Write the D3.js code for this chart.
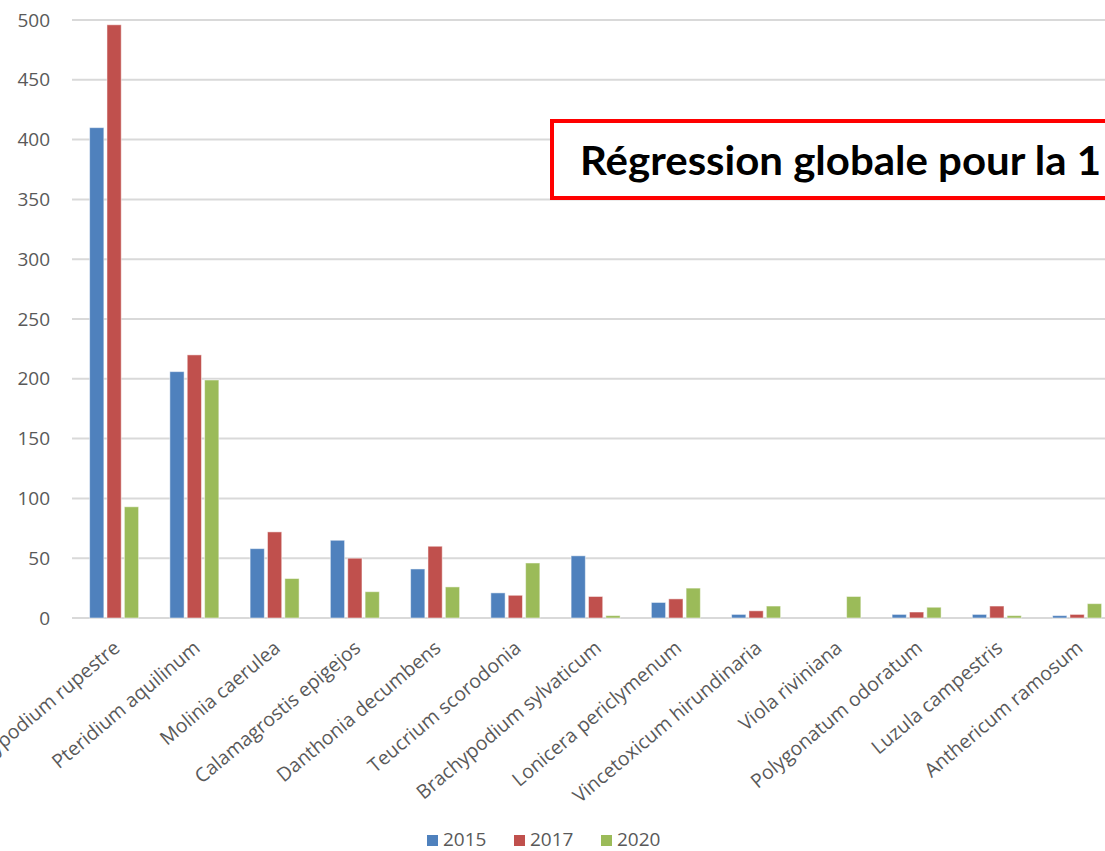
<!DOCTYPE html>
<html>
<head>
<meta charset="utf-8">
<script src="https://cdn.jsdelivr.net/npm/d3@7"></script>
<style>
    html, body { margin: 0; padding: 0; background: #fff; overflow: hidden; }
    svg { display: block; }
</style>
</head>
<body>
<div id="chart"></div>
<script>
// species along the x axis
var species = [
    "Brachypodium rupestre", "Pteridium aquilinum", "Molinia caerulea",
    "Calamagrostis epigejos", "Danthonia decumbens", "Teucrium scorodonia",
    "Brachypodium sylvaticum", "Lonicera periclymenum", "Vincetoxicum hirundinaria",
    "Viola riviniana", "Polygonatum odoratum", "Luzula campestris", "Anthericum ramosum"
];
var years = ["2015", "2017", "2020"];
var values2015 = [410, 206, 58, 65, 41, 21, 52, 13, 3, 0, 3, 3, 2];
var values2017 = [496, 220, 72, 50, 60, 19, 18, 16, 6, 0, 5, 10, 3];
var values2020 = [93, 199, 33, 22, 26, 46, 2, 25, 10, 18, 9, 2, 12];
var yTicks = [0, 50, 100, 150, 200, 250, 300, 350, 400, 450, 500];
var boxText = "Régression globale pour la 1";

function init() {
    var w = 1105;
    var h = 851;
    var colors = { "2015": "#4f81bd", "2017": "#c0504d", "2020": "#9bbb59" };
    var seriesValues = { "2015": values2015, "2017": values2017, "2020": values2020 };

    var svg = d3.select("#chart")
        .append("svg")
        .attr("width", w)
        .attr("height", h);

    // plot area runs a little past the right edge (picture is cropped)
    var xScale = d3.scaleBand()
        .domain(species)
        .range([74, 74 + 13 * 80.25]);

    var xInner = d3.scaleBand()
        .domain(years)
        .range([15.6, 64.6])
        .paddingInner(0.18);

    var yScale = d3.scaleLinear()
        .domain([0, 500])
        .range([618, 20]);

    // gridlines
    svg.append("g")
        .selectAll("line")
        .data(yTicks)
        .enter()
        .append("line")
        .attr("x1", 72)
        .attr("x2", w)
        .attr("y1", d => yScale(d))
        .attr("y2", d => yScale(d))
        .attr("stroke", "#d9d9d9")
        .attr("stroke-width", 2);

    // y tick labels
    svg.append("g")
        .selectAll("text")
        .data(yTicks)
        .enter()
        .append("text")
        .attr("x", 50)
        .attr("y", d => yScale(d))
        .attr("dy", "0.35em")
        .attr("text-anchor", "end")
        .style("font-family", "Open Sans")
        .style("font-size", "19px")
        .style("fill", "#595959")
        .text(d => d);

    // bars, one group per species
    var groups = svg.append("g")
        .selectAll("g")
        .data(species)
        .enter()
        .append("g")
        .attr("transform", d => "translate(" + xScale(d) + ",0)");

    groups.selectAll("rect")
        .data((d, i) => years.map(y => ({ year: y, value: seriesValues[y][i] })))
        .enter()
        .filter(d => d.value > 0)
        .append("rect")
        .attr("x", d => xInner(d.year))
        .attr("y", d => yScale(d.value))
        .attr("width", xInner.bandwidth())
        .attr("height", d => yScale(0) - yScale(d.value))
        .attr("fill", d => colors[d.year])
        .attr("stroke", "#ffffff")
        .attr("stroke-opacity", 0.5)
        .attr("stroke-width", 1);

    // rotated category labels
    svg.append("g")
        .selectAll("text")
        .data(species)
        .enter()
        .append("text")
        .attr("transform", d => "translate(" + (xScale(d) + xScale.bandwidth() / 2 + 7) + ",650) rotate(-40)")
        .attr("text-anchor", "end")
        .style("font-family", "Open Sans")
        .style("font-size", "19.5px")
        .style("fill", "#595959")
        .text(d => d);

    // legend
    var legendX = [427, 514, 601];
    var legend = svg.append("g")
        .selectAll("g")
        .data(years)
        .enter()
        .append("g")
        .attr("transform", (d, i) => "translate(" + legendX[i] + ",835)");

    legend.append("rect")
        .attr("width", 11)
        .attr("height", 11)
        .attr("fill", d => colors[d]);

    legend.append("text")
        .attr("x", 16)
        .attr("y", 11)
        .style("font-family", "Open Sans")
        .style("font-size", "19px")
        .style("fill", "#595959")
        .text(d => d);

    // red annotation box, cut off by the right edge
    svg.append("rect")
        .attr("x", 552)
        .attr("y", 121)
        .attr("width", 600)
        .attr("height", 77)
        .attr("fill", "#ffffff")
        .attr("stroke", "#ff0000")
        .attr("stroke-width", 4);

    svg.append("text")
        .attr("x", 580)
        .attr("y", 175)
        .attr("textLength", 521)
        .attr("lengthAdjust", "spacingAndGlyphs")
        .style("font-family", "Lato")
        .style("font-weight", "bold")
        .style("font-size", "40px")
        .style("fill", "#000000")
        .text(boxText);
}

window.onload = init;
</script>
</body>
</html>
